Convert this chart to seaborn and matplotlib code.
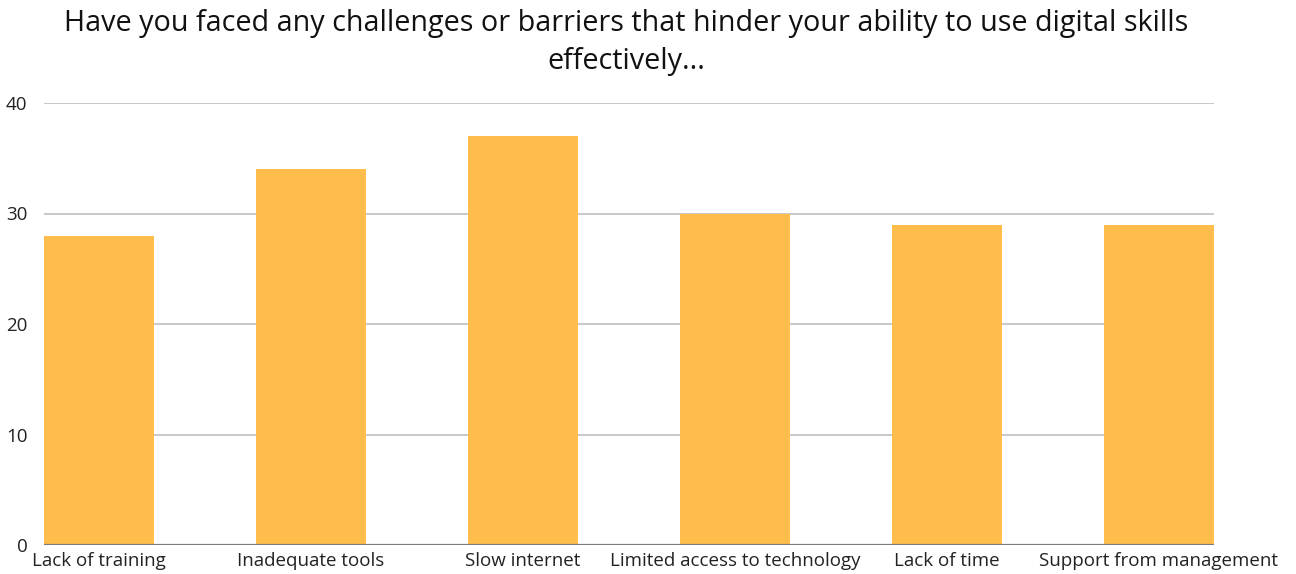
import matplotlib
matplotlib.use("Agg")
import matplotlib.pyplot as plt
import seaborn as sns
import pandas as pd

categories = [
    "Lack of training",
    "Inadequate tools",
    "Slow internet",
    "Limited access to technology",
    "Lack of time",
    "Support from management",
]
counts = [28, 34, 37, 30, 29, 29]
y_ticks = [0, 10, 20, 30, 40]
title = ("Have you faced any challenges or barriers that hinder your ability to use digital skills\n"
         "effectively...")

df = pd.DataFrame({"challenge": categories, "count": counts})

sns.set_theme(style="white")
plt.rcParams["font.family"] = ["Open Sans", "DejaVu Sans"]

fig = plt.figure(figsize=(12.96, 5.74), dpi=100)
ax = fig.add_axes([44 / 1296, 1 - 545 / 574, (1214 - 44) / 1296, (545 - 103) / 574])

bar_w = 0.52
sns.barplot(data=df, x="challenge", y="count", color="#FFBE4B", width=bar_w,
            saturation=1, linewidth=0, ax=ax, zorder=3)

ax.set_xlim(-bar_w / 2, len(categories) - 1 + bar_w / 2)
ax.set_ylim(0, 40)
ax.set_yticks(y_ticks)
ax.yaxis.grid(True, color="#c8c8c8", linewidth=1.4, zorder=0)
ax.axhline(0, color="#7a7a7a", linewidth=1.6, zorder=4)

for s in ax.spines.values():
    s.set_visible(False)
ax.tick_params(axis="both", length=0, labelsize=13.5, labelcolor="#222222")
ax.tick_params(axis="y", pad=12)
ax.tick_params(axis="x", pad=5)
ax.set_xlabel("")
ax.set_ylabel("")

fig.text(626 / 1296, 1 - 9 / 574, title, ha="center", va="top", fontsize=20.7,
         color="#111111", linespacing=1.42)

fig.savefig("out.png", dpi=100)
